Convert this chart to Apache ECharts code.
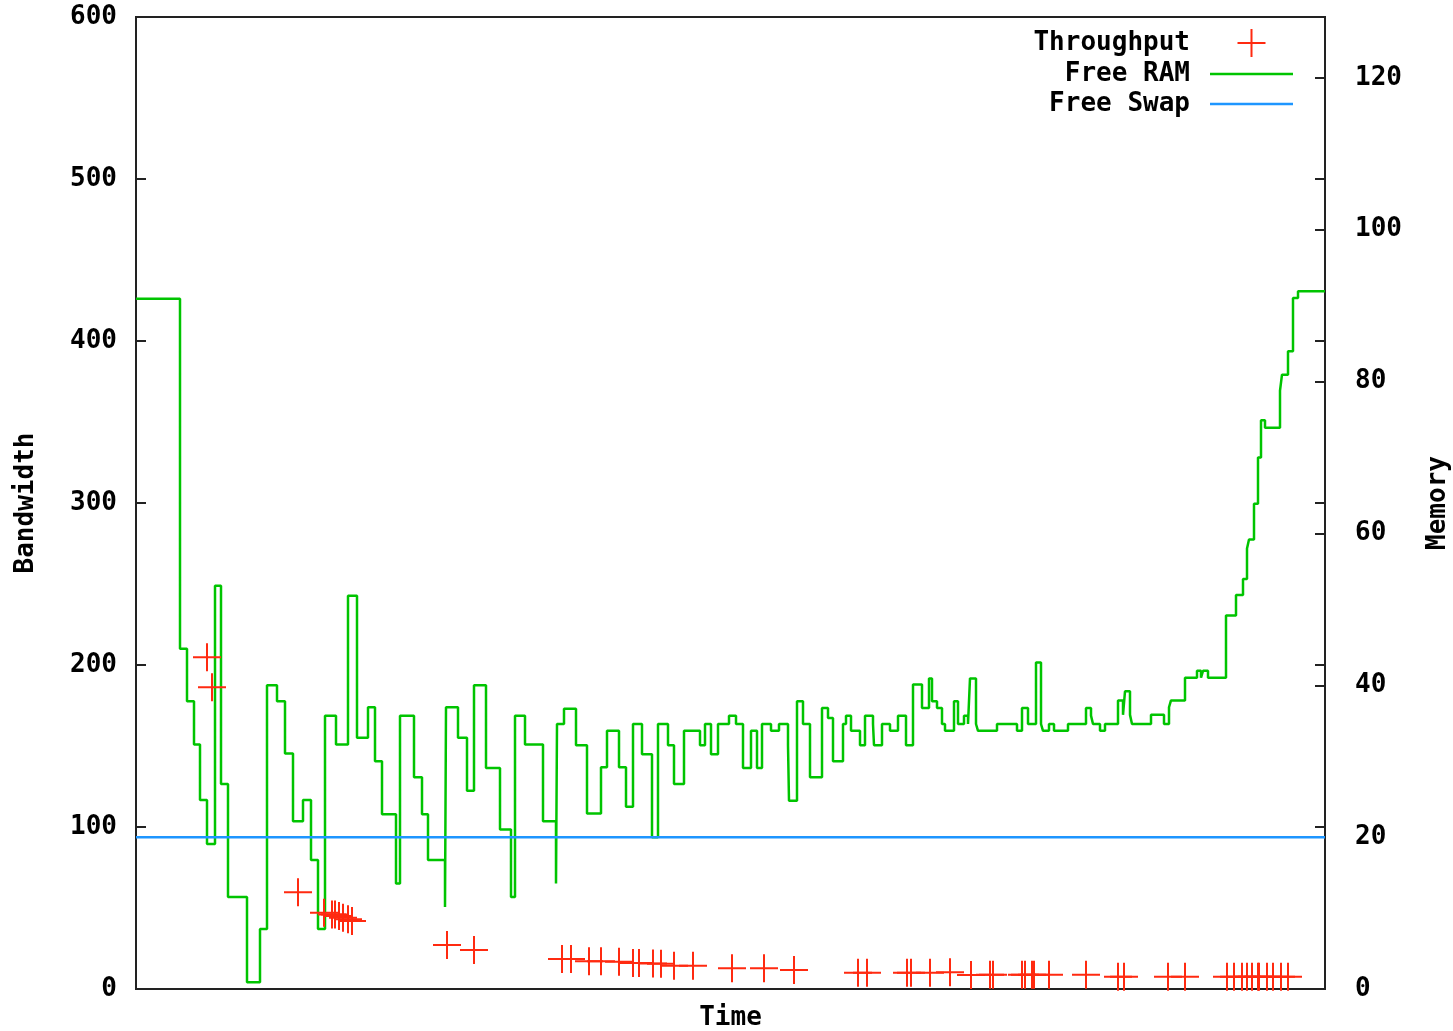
<!DOCTYPE html>
<html>
<head>
<meta charset="utf-8">
<script src="https://cdn.jsdelivr.net/npm/echarts@6/dist/echarts.min.js"></script>
<style>
html,body{margin:0;padding:0;background:#fff;}
#chart{width:1453px;height:1031px;}
</style>
</head>
<body>
<div id="chart"></div>
<script>
// Time (arbitrary units) and Free RAM level (Memory axis) at each step change
const ramTime = [0,44,51,58,64,71,79,85,92,111,124,131,141,149,157,167,175,182,189,200,212,221,232,239,246,260,264,278,286,292,309,310,322,331,338,350,364,375,379,389,407,420,421,428,440,451,465,471,483,490,497,506,516,522,532,538,548,564,569,575,582,593,600,607,615,621,626,635,643,652,653,661,667,674,686,692,697,707,710,715,724,729,737,738,746,754,762,770,777,786,793,796,801,806,809,818,822,828,832,834,840,842,861,881,886,892,900,905,907,913,918,932,950,955,957,964,969,982,987,989,994,996,1015,1028,1033,1035,1049,1061,1065,1067,1072,1090,1100,1107,1111,1113,1118,1122,1125,1129,1144,1146,1152,1157,1162,1189];
const ramFree = [90.9,44.8,37.9,32.2,24.9,19.1,53.1,27.0,12.1,0.9,7.9,40.0,37.9,31.0,22.1,24.9,17.0,7.9,36.0,32.2,51.8,33.1,37.1,30.0,23.0,13.9,36.0,27.9,23.0,17.0,10.8,37.1,33.1,26.1,40.0,29.1,21.0,12.1,36.0,32.2,22.1,13.9,34.9,36.9,32.1,23.1,29.2,34.0,29.2,24.0,34.9,30.9,20.0,34.9,32.1,27.0,34.0,32.1,34.9,30.9,34.9,36.0,34.9,29.1,34.0,29.1,34.9,34.0,34.9,32.1,24.8,37.9,34.9,27.9,37.0,35.7,30.0,34.9,36.0,34.0,32.1,36.0,34.9,32.1,34.9,34.0,36.0,32.1,40.1,37.0,40.9,37.9,37.0,34.9,34.0,37.9,34.9,36.0,34.9,40.9,34.9,34.0,34.9,34.0,37.0,34.9,43.0,34.9,34.0,34.9,34.0,34.9,37.0,36.0,34.9,34.0,34.9,38.0,36.1,39.2,36.1,34.9,36.1,34.9,37.1,38.0,41.0,41.9,41.0,41.9,41.0,49.2,51.9,54.0,58.0,59.2,63.9,70.0,74.9,73.9,78.8,80.9,84.0,91.0,91.9,91.9];

// Free swap (Memory axis), constant
const swapTime = [0, 1189];
const swapFree = [20, 20];

// Throughput samples (Bandwidth axis)
const tpTime = [71,76,162,188,196,199,203,207,212,216,311,338,426,435,453,465,483,497,503,517,525,538,557,596,628,658,722,731,771,775,794,814,835,854,857,886,889,896,898,913,950,982,988,1032,1049,1091,1098,1106,1111,1116,1122,1123,1131,1137,1145,1152];
const tpValue = [204.8,186.2,59.7,47,46,46,45,44,43,42,27.2,24.1,18.5,18.5,17.2,17.2,16.8,16.0,16.0,15.8,15.6,14.3,14.3,12.8,12.8,11.7,10.1,10.1,10.1,10.1,10.1,10.4,8.6,8.8,8.8,8.8,8.8,8.8,8.8,8.8,8.8,7.6,7.6,7.6,7.6,7.6,7.6,7.6,7.6,7.6,7.6,7.6,7.6,7.6,7.6,7.6];

const bwTicks = {min: 0, max: 600, interval: 100};
const memTicks = {min: 0, max: 128, interval: 20};

const zip = (a, b) => a.map((v, i) => [v, b[i]]);

const FONT = 'DejaVu Sans Mono';
const FS = 26;
const RED = '#ff2a10', GREEN = '#00c400', BLUE = '#1e96ff';
const plus = 'path://M13,0h2v13h13v2h-13v13h-2v-13h-13v-2h13z';
const lineIcon = 'path://M0,0h83v2.5h-83z';

const chart = echarts.init(document.getElementById('chart'), null, {renderer: 'canvas'});
chart.setOption({
  animation: false,
  backgroundColor: '#fff',
  textStyle: {fontFamily: FONT, fontWeight: 'bold', color: '#000'},
  grid: {left: 136, right: 128, top: 17, bottom: 42, outerBoundsMode: 'none', containLabel: false,
    show: true, borderColor: '#222', borderWidth: 2, backgroundColor: 'transparent'},
  legend: {
    data: [
      {name: 'Throughput'},
      {name: 'Free RAM', icon: lineIcon},
      {name: 'Free Swap', icon: lineIcon}
    ],
    orient: 'vertical', align: 'right',
    right: 160, top: 29, padding: 0,
    itemWidth: 83, itemHeight: 28, itemGap: 4,
    textStyle: {fontFamily: FONT, fontWeight: 'bold', fontSize: FS, color: '#000', padding: [4, 15, 0, 0]}
  },
  xAxis: {
    type: 'value', min: 0, max: 1189,
    name: 'Time', nameLocation: 'middle', nameGap: 16,
    nameTextStyle: {fontFamily: FONT, fontWeight: 'bold', fontSize: FS, color: '#000'},
    axisLine: {show: false}, axisTick: {show: false}, axisLabel: {show: false}, splitLine: {show: false}
  },
  yAxis: [
    {
      type: 'value', position: 'left', min: bwTicks.min, max: bwTicks.max, interval: bwTicks.interval,
      name: 'Bandwidth', nameLocation: 'middle', nameGap: 97, nameRotate: 90,
      nameTextStyle: {fontFamily: FONT, fontWeight: 'bold', fontSize: FS, color: '#000'},
      axisLine: {show: false},
      axisTick: {show: true, inside: true, length: 10, lineStyle: {color: '#222', width: 2}},
      axisLabel: {margin: 19, fontFamily: FONT, fontWeight: 'bold', fontSize: FS, color: '#000', padding: [6, 0, 0, 0]},
      splitLine: {show: false}
    },
    {
      type: 'value', position: 'right', min: memTicks.min, max: memTicks.max, interval: memTicks.interval,
      name: 'Memory', nameLocation: 'middle', nameGap: 100, nameRotate: 90,
      nameTextStyle: {fontFamily: FONT, fontWeight: 'bold', fontSize: FS, color: '#000'},
      axisLine: {show: false},
      axisTick: {show: true, inside: true, length: 10, lineStyle: {color: '#222', width: 2}},
      axisLabel: {margin: 30, fontFamily: FONT, fontWeight: 'bold', fontSize: FS, color: '#000', padding: [6, 0, 0, 0],
        formatter: v => (v % 20 === 0 ? String(v) : '')},
      splitLine: {show: false}
    },
    {
      type: 'value', position: 'right', min: bwTicks.min, max: bwTicks.max, interval: bwTicks.interval,
      axisLine: {show: false},
      axisTick: {show: true, inside: true, length: 10, lineStyle: {color: '#222', width: 2}},
      axisLabel: {show: false}, splitLine: {show: false}
    }
  ],
  series: [
    {
      name: 'Throughput', type: 'scatter', yAxisIndex: 0,
      symbol: plus, symbolSize: 28, symbolKeepAspect: true,
      itemStyle: {color: RED, opacity: 1},
      data: zip(tpTime, tpValue), z: 3
    },
    {
      name: 'Free RAM', type: 'line', yAxisIndex: 1, step: 'end',
      symbol: 'none', showSymbol: false,
      lineStyle: {color: GREEN, width: 2.5}, itemStyle: {color: GREEN},
      data: zip(ramTime, ramFree), z: 2
    },
    {
      name: 'Free Swap', type: 'line', yAxisIndex: 1,
      symbol: 'none', showSymbol: false,
      lineStyle: {color: BLUE, width: 2.5}, itemStyle: {color: BLUE},
      data: zip(swapTime, swapFree), z: 2
    }
  ]
});
</script>
</body>
</html>
